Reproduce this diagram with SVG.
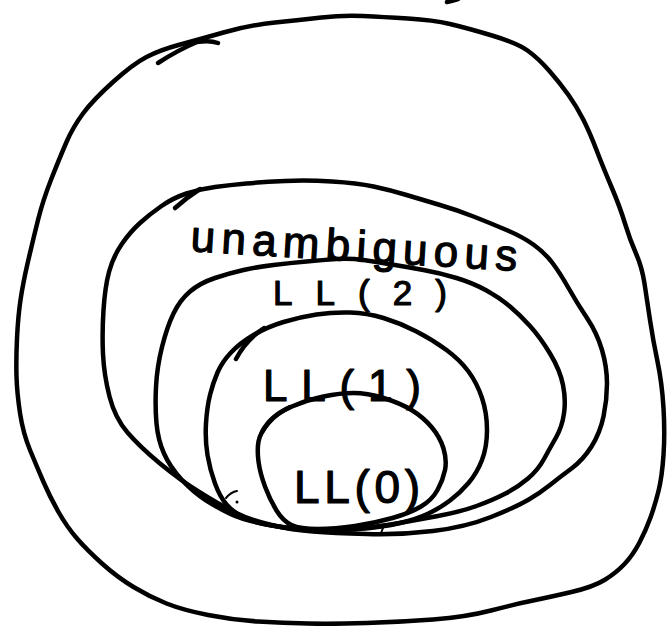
<svg xmlns="http://www.w3.org/2000/svg" width="667" height="628" viewBox="0 0 667 628">
<style>
  .ink { fill: none; stroke: #000; stroke-width: 4.5; stroke-linecap: round; stroke-linejoin: round; }
  .thin { fill: none; stroke: #000; stroke-width: 2; stroke-linecap: round; }
  .lbl { font-family: "Liberation Sans", "DejaVu Sans", sans-serif; fill: #000; stroke: #000; stroke-width: 1.2; stroke-linejoin: round; }
</style>
<rect width="667" height="628" fill="#fff"/>
<g id="connectors"/>
<g id="outer">
  <path class="ink" d="M16.5,376.5 Q16,360 17,338.5 Q18,317 20.5,300 Q23,283 28,261.5 Q33,240 38,220 Q43,200 51.5,178.5 Q60,157 66.5,142 Q73,127 83,113.5 Q93,100 113,82 Q133,64 146.5,57 Q160,50 178.5,45 Q197,40 223.5,32.5 Q250,25 275,22.5 Q300,20 321.5,17.5 Q343,15 363,16 Q383,17 408,18.5 Q433,20 450,24 Q467,28 492,35.5 Q517,43 527.5,50.5 Q538,58 549,70.5 Q560,83 568.5,95 Q577,107 583.5,120 Q590,133 596.5,150 Q603,167 611.5,187 Q620,207 625,223.5 Q630,240 636,253.5 Q642,267 644.5,283.5 Q647,300 650,320 Q653,340 657.5,361.5 Q662,383 663.5,408 Q665,433 663.5,455 Q662,477 658.5,491 Q655,505 650.5,517.5 Q646,530 639.5,542.5 Q633,555 624.5,564 Q616,573 604.5,580 Q593,587 571.5,592 Q550,597 533,600.5 Q516,604 491,610.5 Q466,617 433,619.5 Q400,622 366.5,623 Q333,624 308,623.5 Q283,623 258,621.5 Q233,620 208,615 Q183,610 166.5,603.5 Q150,597 133.5,587 Q117,577 102,563.5 Q87,550 77,538.5 Q67,527 58.5,512 Q50,497 43.5,482 Q37,467 30,450 Q23,433 20,413 Q17,393 16.5,376.5 Z"/>
  <path class="ink" d="M158,63 Q178,50 197,42 Q210,40 218,43"/>
  <path class="ink" d="M447,2 Q452,1 458,-1"/>
</g>
<g id="unambiguous">
  <path class="ink" d="M103,354 Q102,333 103.5,310 Q105,287 109,272 Q113,257 121.5,244.5 Q130,232 140,223 Q150,214 161.5,206 Q173,198 186.5,193.5 Q200,189 215,187 Q230,185 246.5,183.5 Q263,182 285,181 Q307,180 332,181.5 Q357,183 373.5,186.5 Q390,190 406.5,195 Q423,200 440,205 Q457,210 473.5,216.5 Q490,223 506.5,230 Q523,237 534,245 Q545,253 552.5,263 Q560,273 568.5,288 Q577,303 587,318 Q597,333 602,350 Q607,367 607,383.5 Q607,400 603.5,416.5 Q600,433 591.5,446.5 Q583,460 571.5,468.5 Q560,477 550,485 Q540,493 528,500 Q516,507 491,517 Q466,527 433,531 Q400,535 366.5,534 Q333,533 313,531.5 Q293,530 271.5,525 Q250,520 235,512.5 Q220,505 200,492.5 Q180,480 160,463.5 Q140,447 127.5,432.5 Q115,418 109.5,396.5 Q104,375 103,354 Z"/>
  <path class="ink" d="M175,208 Q186,198 200,189"/>
  <text class="lbl" x="190" y="251" font-size="44" textLength="327" lengthAdjust="spacing" transform="rotate(3.5 190 251)">unambiguous</text>
</g>
<g id="ll2">
  <path class="ink" d="M156.5,423.5 Q155,407 156,387 Q157,367 162,347 Q167,327 173.5,313.5 Q180,300 190,291.5 Q200,283 215,278 Q230,273 243.5,270 Q257,267 273.5,265 Q290,263 306.5,261.5 Q323,260 336.5,259 Q350,258 363.5,260 Q377,262 392,264.5 Q407,267 423.5,270 Q440,273 456.5,278 Q473,283 486.5,290.5 Q500,298 510,306.5 Q520,315 530,326 Q540,337 550,353.5 Q560,370 563,385 Q566,400 564,413.5 Q562,427 556,437.5 Q550,448 544,459 Q538,470 528,478.5 Q518,487 505.5,493.5 Q493,500 476.5,506 Q460,512 438,516 Q416,520 399.5,523 Q383,526 361.5,528.5 Q340,531 315,530 Q290,529 266.5,524.5 Q243,520 230.5,514 Q218,508 205.5,500 Q193,492 181.5,479.5 Q170,467 164,453.5 Q158,440 156.5,423.5 Z"/>
  <text class="lbl" x="273" y="305" font-size="35" textLength="174" lengthAdjust="spacing">LL(2)</text>
</g>
<g id="ll1">
  <path class="ink" d="M207.5,455 Q205,440 206,423.5 Q207,407 210,395 Q213,383 217.5,372.5 Q222,362 231,352.5 Q240,343 253.5,335 Q267,327 283.5,322 Q300,317 316.5,314.5 Q333,312 350,312.5 Q367,313 383.5,318 Q400,323 416.5,331.5 Q433,340 446.5,350 Q460,360 468.5,371.5 Q477,383 482,398 Q487,413 487,430 Q487,447 482,460 Q477,473 468.5,483 Q460,493 450,500.5 Q440,508 428.5,513.5 Q417,519 400,523 Q383,527 358,529 Q333,531 311.5,530 Q290,529 271.5,525.5 Q253,522 243,517 Q233,512 226.5,504.5 Q220,497 215,483.5 Q210,470 207.5,455 Z"/>
  <path class="ink" d="M236,359 Q246,340 264,328"/>
  <text class="lbl" x="263" y="401" font-size="44" textLength="158" lengthAdjust="spacing">LL(1)</text>
</g>
<g id="ll0">
  <path class="ink" d="M258.5,461.5 Q257,450 258.5,441.5 Q260,433 268.5,423 Q277,413 292,406.5 Q307,400 323.5,396.5 Q340,393 353.5,393 Q367,393 383.5,398 Q400,403 411.5,410 Q423,417 431.5,427 Q440,437 443.5,448.5 Q447,460 445,470 Q443,480 437.5,490 Q432,500 421,506.5 Q410,513 392.5,518 Q375,523 355,526 Q335,529 317.5,529 Q300,529 291.5,525 Q283,521 276.5,510.5 Q270,500 265,486.5 Q260,473 258.5,461.5 Z"/>
  <path class="ink" d="M262,432 Q270,416 290,407"/>
  <text class="lbl" x="294" y="503" font-size="46" textLength="126" lengthAdjust="spacing">LL(0)</text>
</g>
<path class="thin" d="M226,498 Q231,492 237,491"/>
<circle cx="237" cy="502" r="1.5" fill="#000"/>
<path class="thin" d="M383,528 L381,533"/>
</svg>
